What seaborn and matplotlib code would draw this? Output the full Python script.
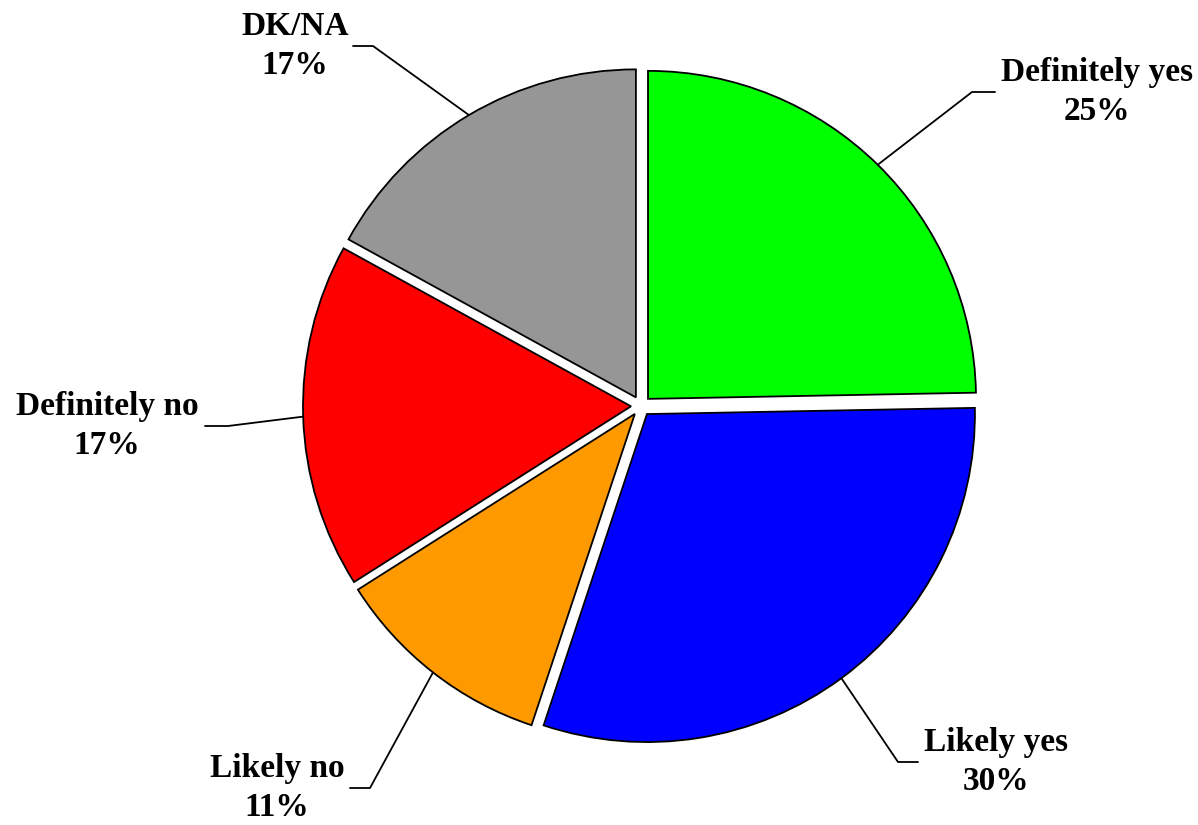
import numpy as np
import matplotlib
matplotlib.use('Agg')
import matplotlib.pyplot as plt
import seaborn as sns

# Data (slice sizes)
labels = ['Definitely yes', 'Likely yes', 'Likely no', 'Definitely no', 'DK/NA']
values = [24.7, 30.4, 10.9, 17.0, 17.0]
colors = ['#00FF00', '#0000FF', '#FF9900', '#FF0000', '#969696']

sns.set_theme(style='white')
plt.rcParams['font.family'] = ['Liberation Serif', 'DejaVu Serif']

W, H = 1198, 825
fig = plt.figure(figsize=(W / 100, H / 100), dpi=100)
ax = fig.add_axes([0, 0, 1, 1])

# pie geometry in pixel units (y measured from top, converted below)
cx, cy, R, gap = 641, 406, 328, 10
center = (cx, H - cy)

wedges, _ = ax.pie(values, colors=colors, startangle=90, counterclock=False,
                   radius=R, center=center, explode=[gap] * len(values),
                   wedgeprops=dict(edgecolor='black', linewidth=1.3),
                   frame=True)
ax.set_xlim(0, W)
ax.set_ylim(0, H)
ax.set_aspect('equal')
ax.axis('off')

# label layout: text block centre, elbow x, end of horizontal stub (top coords)
text_pos = [(1097, 92), (996, 762), (277, 788), (107, 426), (295, 46)]
elbow_x = [(972, 995), (898, 918), (370, 350), (228, 205), (373, 353)]

for w, lab, v, (tx, ty), (ex, sx) in zip(wedges, labels, values, text_pos, elbow_x):
    ang = np.deg2rad((w.theta1 + w.theta2) / 2)
    wx, wy = w.center
    px, py = wx + R * np.cos(ang), wy + R * np.sin(ang)
    ly = H - ty
    ax.plot([px, ex, sx], [py, ly, ly], color='black', lw=1.3)
    ax.text(tx, ly, f'{lab}\n{v:.0f}%', ha='center', va='center',
            fontsize=24, fontweight='bold', linespacing=1.3, color='black')

fig.savefig('out.png', dpi=100, facecolor='white')
